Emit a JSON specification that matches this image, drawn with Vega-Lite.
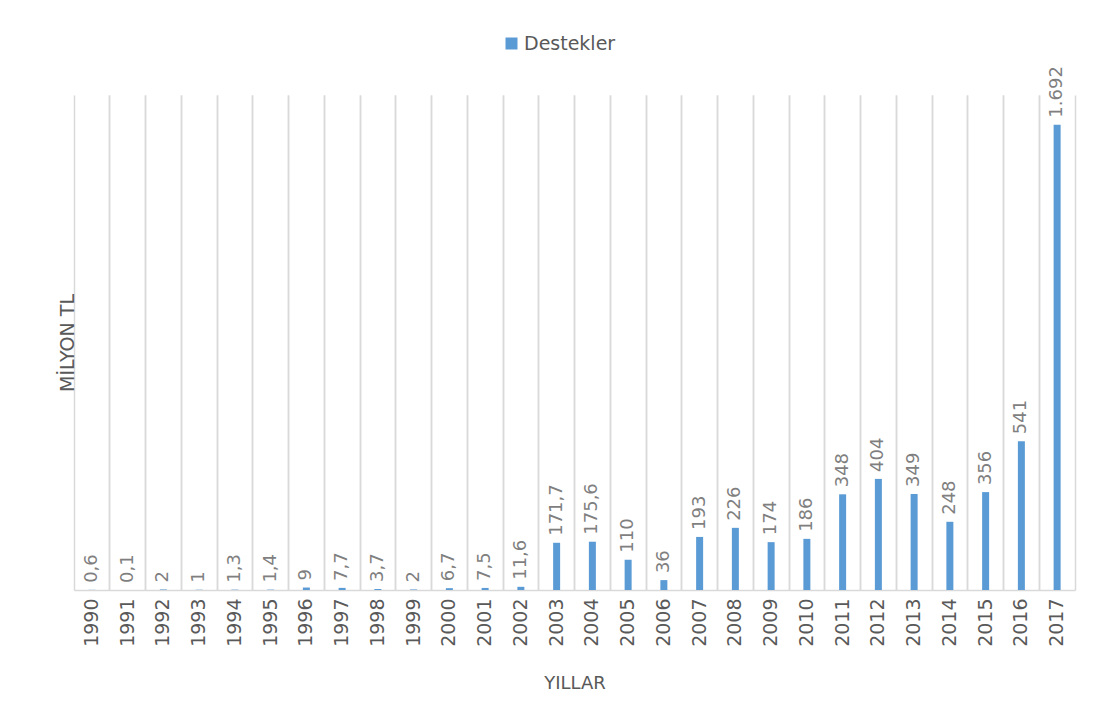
{
  "$schema": "https://vega.github.io/schema/vega-lite/v6.json",
  "width": 1001,
  "height": 495,
  "autosize": {"type": "none"},
  "padding": {"left": 74, "top": 95, "right": 30, "bottom": 134},
  "background": "white",
  "config": {
    "view": {"stroke": null},
    "font": "DejaVu Sans",
    "locale": {"number": {"decimal": ",", "thousands": ".", "grouping": [3], "currency": ["", " TL"]}}
  },
  "data": {
    "values": [
      {"yil": "1990", "deger": 0.6},
      {"yil": "1991", "deger": 0.1},
      {"yil": "1992", "deger": 2},
      {"yil": "1993", "deger": 1},
      {"yil": "1994", "deger": 1.3},
      {"yil": "1995", "deger": 1.4},
      {"yil": "1996", "deger": 9},
      {"yil": "1997", "deger": 7.7},
      {"yil": "1998", "deger": 3.7},
      {"yil": "1999", "deger": 2},
      {"yil": "2000", "deger": 6.7},
      {"yil": "2001", "deger": 7.5},
      {"yil": "2002", "deger": 11.6},
      {"yil": "2003", "deger": 171.7},
      {"yil": "2004", "deger": 175.6},
      {"yil": "2005", "deger": 110},
      {"yil": "2006", "deger": 36},
      {"yil": "2007", "deger": 193},
      {"yil": "2008", "deger": 226},
      {"yil": "2009", "deger": 174},
      {"yil": "2010", "deger": 186},
      {"yil": "2011", "deger": 348},
      {"yil": "2012", "deger": 404},
      {"yil": "2013", "deger": 349},
      {"yil": "2014", "deger": 248},
      {"yil": "2015", "deger": 356},
      {"yil": "2016", "deger": 541},
      {"yil": "2017", "deger": 1692}
    ]
  },
  "layer": [
    {
      "mark": {"type": "bar", "width": 7},
      "encoding": {
        "x": {
          "field": "yil", "type": "ordinal",
          "scale": {"paddingInner": 0, "paddingOuter": 0},
          "axis": {
            "orient": "bottom",
            "title": "YILLAR",
            "titleFontSize": 18, "titleFontWeight": "normal", "titleColor": "#595959", "titlePadding": 28,
            "labelAngle": -90, "labelFontSize": 19, "labelColor": "#595959", "labelPadding": 8,
            "ticks": false,
            "domainColor": "#d9d9d9", "domainWidth": 1.5,
            "grid": true, "gridColor": "#d9d9d9", "gridWidth": 1.5, "bandPosition": 0
          }
        },
        "y": {
          "field": "deger", "type": "quantitative",
          "scale": {"domain": [0, 1800], "nice": false},
          "axis": {
            "title": "MİLYON TL", "titleFontSize": 19, "titleFontWeight": "normal", "titleColor": "#595959", "titlePadding": -3,
            "labels": false, "ticks": false, "domain": false, "grid": false
          }
        },
        "color": {
          "datum": "Destekler",
          "scale": {"range": ["#5B9BD5"]},
          "legend": {
            "title": null, "orient": "none", "legendX": 428, "legendY": -61,
            "symbolType": "square", "symbolSize": 144, "symbolStrokeWidth": 0,
            "labelFontSize": 19, "labelColor": "#595959", "labelOffset": 3
          }
        }
      }
    },
    {
      "mark": {"type": "text", "angle": -90, "align": "left", "baseline": "middle", "dx": 7, "fontSize": 18, "color": "#7f7f7f"},
      "encoding": {
        "x": {
          "field": "yil", "type": "ordinal",
          "axis": {
            "orient": "top", "title": null, "labels": false, "ticks": false, "domain": false,
            "grid": true, "gridColor": "#d9d9d9", "gridWidth": 1.5, "bandPosition": 1
          }
        },
        "y": {"field": "deger", "type": "quantitative"},
        "text": {"field": "deger", "type": "quantitative", "format": ","}
      }
    }
  ]
}
